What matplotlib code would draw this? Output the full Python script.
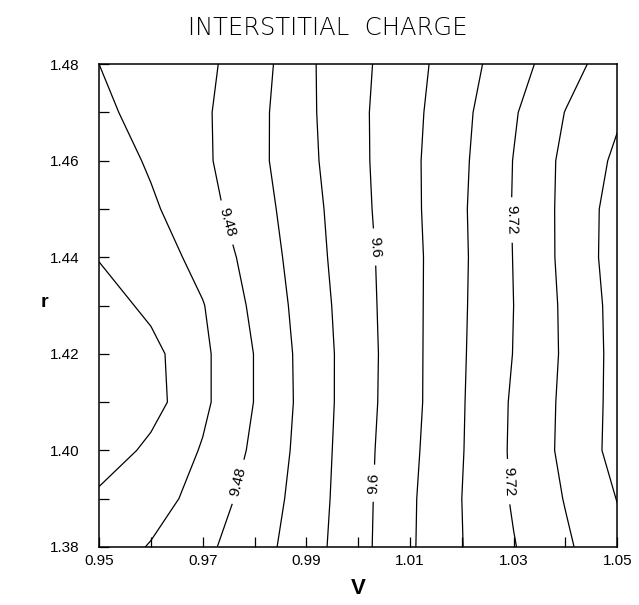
import numpy as np
import matplotlib
matplotlib.use("Agg")
import matplotlib.pyplot as plt

# grid
V_VALUES = [0.95, 0.96, 0.97, 0.98, 0.99, 1.00, 1.01, 1.02, 1.03, 1.04, 1.05]
R_VALUES = [1.38, 1.39, 1.40, 1.41, 1.42, 1.43, 1.44, 1.45, 1.46, 1.47, 1.48]

Q_138 = [9.415, 9.443, 9.471, 9.503, 9.542, 9.587, 9.635, 9.679, 9.718, 9.754, 9.790]
Q_139 = [9.408, 9.420, 9.457, 9.495, 9.538, 9.586, 9.634, 9.680, 9.724, 9.762, 9.801]
Q_140 = [9.376, 9.409, 9.443, 9.487, 9.535, 9.585, 9.631, 9.678, 9.726, 9.769, 9.813]
Q_141 = [9.365, 9.385, 9.432, 9.481, 9.533, 9.583, 9.628, 9.677, 9.725, 9.768, 9.812]
Q_142 = [9.365, 9.388, 9.432, 9.481, 9.534, 9.582, 9.628, 9.676, 9.721, 9.766, 9.812]
Q_143 = [9.381, 9.409, 9.438, 9.488, 9.537, 9.584, 9.628, 9.675, 9.720, 9.767, 9.813]
Q_144 = [9.402, 9.418, 9.454, 9.494, 9.542, 9.586, 9.628, 9.674, 9.721, 9.770, 9.817]
Q_145 = [9.410, 9.434, 9.466, 9.502, 9.545, 9.589, 9.630, 9.675, 9.722, 9.770, 9.816]
Q_146 = [9.417, 9.445, 9.473, 9.508, 9.550, 9.591, 9.631, 9.673, 9.721, 9.769, 9.807]
Q_147 = [9.432, 9.453, 9.474, 9.507, 9.552, 9.592, 9.629, 9.670, 9.716, 9.761, 9.795]
Q_148 = [9.440, 9.456, 9.471, 9.501, 9.553, 9.590, 9.626, 9.664, 9.704, 9.744, 9.782]

LEVELS = [9.40, 9.44, 9.52, 9.56, 9.64, 9.68, 9.76, 9.80]
LABELLED = [9.48, 9.60, 9.72]
LABEL_AT = [(0.9747, 1.4472), (0.9768, 1.3935),
            (1.0029, 1.4421), (1.0029, 1.3932),
            (1.0290, 1.4477), (1.0286, 1.3935)]
LABEL_UP = [False, True, False, True, False, False]

X_TICKS = [0.95, 0.96, 0.97, 0.98, 0.99, 1.00, 1.01, 1.02, 1.03, 1.04, 1.05]
X_LABELS = ["0.95", "", "0.97", "", "0.99", "", "1.01", "", "1.03", "", "1.05"]
Y_TICKS = [1.38, 1.39, 1.40, 1.41, 1.42, 1.43, 1.44, 1.45, 1.46, 1.47, 1.48]
Y_LABELS = ["1.38", "", "1.40", "", "1.42", "", "1.44", "", "1.46", "", "1.48"]

plt.rcParams["font.family"] = ["Liberation Sans", "DejaVu Sans"]

Z = np.array([Q_138, Q_139, Q_140, Q_141, Q_142, Q_143,
              Q_144, Q_145, Q_146, Q_147, Q_148])
V, R = np.meshgrid(V_VALUES, R_VALUES)

fig = plt.figure(figsize=(6.39, 6.05), dpi=100)
ax = fig.add_axes([0.155, 0.096, 0.811, 0.798])

ax.contour(V, R, Z, levels=LEVELS, colors="black", linewidths=0.9)
cs = ax.contour(V, R, Z, levels=LABELLED, colors="black", linewidths=0.9)
texts = ax.clabel(cs, manual=LABEL_AT, inline=True,
                  inline_spacing=8, fontsize=11, fmt=lambda v: f"{v:g}")
for t, up in zip(texts, LABEL_UP):
    rot = t.get_rotation()
    if rot > 180:
        rot -= 360
    if up and rot < 0:
        rot += 180
    if not up and rot > 0:
        rot -= 180
    t.set_rotation(rot)

ax.set_xlim(0.95, 1.05)
ax.set_ylim(1.38, 1.48)
ax.set_xticks(X_TICKS)
ax.set_xticklabels(X_LABELS)
ax.set_yticks(Y_TICKS)
ax.set_yticklabels(Y_LABELS)
ax.tick_params(direction="in", length=7.5, width=0.9, labelsize=11)
ax.tick_params(axis="y", pad=14)
ax.tick_params(axis="x", pad=5)
for s in ax.spines.values():
    s.set_linewidth(1.1)

fig.text(0.513, 0.953, "INTERSTITIAL  CHARGE", ha="center", va="center",
         fontsize=17.5, family="DejaVu Sans", fontweight="light", color="black")
fig.text(0.56, 0.027, "V", ha="center", va="center", fontsize=16, fontweight="bold")
fig.text(0.07, 0.5, "r", ha="center", va="center", fontsize=14, fontweight="bold")

fig.savefig("out.png", dpi=100)
